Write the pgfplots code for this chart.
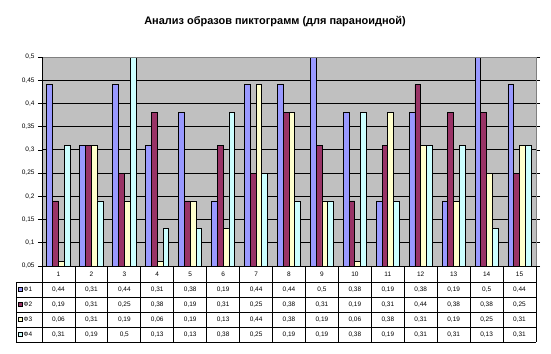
\documentclass[border=0pt]{standalone}
\usepackage{pgfplots}
\usepackage{pgfplotstable}
\pgfplotsset{compat=1.18}
\usepackage{fontspec}
\setmainfont{Liberation Sans}
\definecolor{cA}{HTML}{9999FF}
\definecolor{cB}{HTML}{993366}
\definecolor{cC}{HTML}{FFFFCC}
\definecolor{cD}{HTML}{CCFFFF}
\definecolor{bg}{HTML}{C0C0C0}
\definecolor{bd}{HTML}{808080}
\pgfplotstableread{
x f1 f2 f3 f4
1 0.44 0.19 0.06 0.31
2 0.31 0.31 0.31 0.19
3 0.44 0.25 0.19 0.5
4 0.31 0.38 0.06 0.13
5 0.38 0.19 0.19 0.13
6 0.19 0.31 0.13 0.38
7 0.44 0.25 0.44 0.25
8 0.44 0.38 0.38 0.19
9 0.5 0.31 0.19 0.19
10 0.38 0.19 0.06 0.38
11 0.19 0.31 0.38 0.19
12 0.38 0.44 0.31 0.31
13 0.19 0.38 0.19 0.31
14 0.5 0.38 0.25 0.13
15 0.44 0.25 0.31 0.31
}\datatable
\begin{document}
\begin{tikzpicture}[/pgf/number format/.cd, use comma, fixed, precision=2, assume math mode=true]
\useasboundingbox (-42bp,-88bp) rectangle (509bp,266bp);
\begin{axis}[
  at={(0,0)}, anchor=south west, scale only axis,
  width=494bp, height=209bp,
  xmin=0.5, xmax=15.5, ymin=0.05, ymax=0.5,
  xtick=\empty,
  ytick={0.05,0.1,0.15,0.2,0.25,0.3,0.35,0.4,0.45,0.5},
  yticklabel style={font=\fontsize{6.5}{7}\selectfont, /pgf/number format/.cd, use comma, fixed, precision=2, assume math mode=true},
  tick align=outside, major tick length=4bp,
  ytick style={black, line width=0.6bp},
  axis background/.style={fill=bg},
  axis line style={draw=none},
  ymajorgrids, grid style={black, line width=0.8bp},
  ybar=0pt, bar width=0.176,
  clip mode=individual,
  every axis plot/.append style={draw=black, line width=0.8bp},
]
\addplot[fill=cA] table[x=x, y=f1] {\datatable};
\addplot[fill=cB] table[x=x, y=f2] {\datatable};
\addplot[fill=cC] table[x=x, y=f3] {\datatable};
\addplot[fill=cD] table[x=x, y=f4] {\datatable};
\draw[bd, line width=0.8bp] (rel axis cs:0,1) -- (rel axis cs:1,1) -- (rel axis cs:1,0);
\draw[black, line width=0.8bp] (rel axis cs:0,1) -- (rel axis cs:0,0) -- (rel axis cs:1,0);
\end{axis}
\node[font=\bfseries\fontsize{11}{12}\selectfont] at (233bp,244bp) {Анализ образов пиктограмм (для параноидной)};
% data table
\foreach \i in {0,...,15} \draw[line width=0.8bp] ({\i*32.9333bp},0bp) -- ({\i*32.9333bp},-76bp);
\draw[line width=0.8bp] (-26bp,-16bp) -- (-26bp,-76bp);
\foreach \j in {1,...,5} \draw[line width=0.8bp] (-26bp,{-1bp-15bp*\j}) -- (494bp,{-1bp-15bp*\j});
\foreach \i in {1,...,15} \node[font=\fontsize{6.5}{7}\selectfont] at ({(\i-0.5)*32.9333bp},-8bp) {\i};
\foreach \r/\c/\col in {1/f1/cA,2/f2/cB,3/f3/cC,4/f4/cD} {
  \filldraw[fill=\col, draw=black, line width=0.4bp] (-24bp,{-8.5bp-15bp*\r-2bp}) rectangle ++(4bp,4bp);
  \node[anchor=west, inner sep=1bp, font=\fontsize{6.5}{7}\selectfont] at (-19.5bp,{-8.5bp-15bp*\r}) {Ф\r};
  \foreach \i in {0,...,14} {
    \pgfplotstablegetelem{\i}{\c}\of\datatable
    \node[font=\fontsize{6.5}{7}\selectfont] at ({(\i+0.5)*32.9333bp},{-8.5bp-15bp*\r}) {\pgfmathprintnumber{\pgfplotsretval}};
  }
}
\end{tikzpicture}
\end{document}
